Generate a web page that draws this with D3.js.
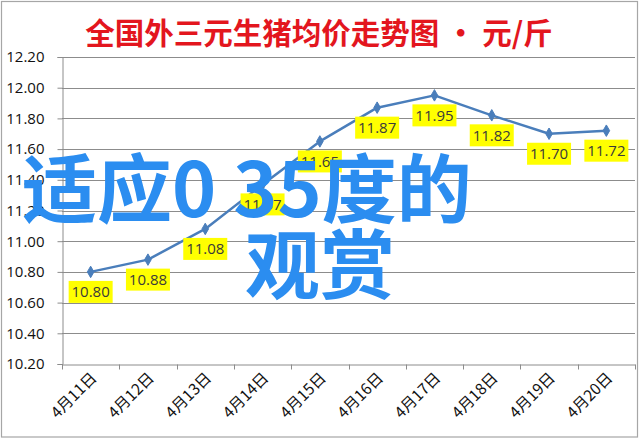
<!DOCTYPE html>
<html><head><meta charset="utf-8">
<script src="https://cdn.jsdelivr.net/npm/d3@7"></script>
<style>
html,body{margin:0;padding:0;background:#fff;}
svg{display:block;}
</style></head>
<body>
<svg id="chart" width="640" height="439"></svg>
<script>
const title = "全国外三元生猪均价走势图 · 元/斤";
const categories = ["4月11日","4月12日","4月13日","4月14日","4月15日","4月16日","4月17日","4月18日","4月19日","4月20日"];
const values = [10.80, 10.88, 11.08, 11.37, 11.65, 11.87, 11.95, 11.82, 11.70, 11.72];
const yTicks = [10.20, 10.40, 10.60, 10.80, 11.00, 11.20, 11.40, 11.60, 11.80, 12.00, 12.20];
const overlayLine1 = "适应0 35度的";
const overlayLine2 = "观赏";

const svg = d3.select("#chart");
const plot = {left: 62, right: 635, top: 57, bottom: 364};

// outer frame
svg.append("rect").attr("x", 1.5).attr("y", 1.5).attr("width", 636).attr("height", 435.5)
  .attr("fill", "#fff").attr("stroke", "#a6a6a6").attr("stroke-width", 1.2);

// title
svg.append("text").attr("x", 319).attr("y", 44).attr("text-anchor", "middle")
  .attr("font-family", "'Noto Sans CJK SC', sans-serif").attr("font-weight", 700)
  .attr("font-size", 29.5).attr("fill", "#e3161e").text(title);

const x = d3.scaleBand().domain(categories).range([plot.left, plot.right]);
const y = d3.scaleLinear().domain([10.2, 12.2]).range([plot.bottom, plot.top]);

// gridlines
svg.append("g").selectAll("line").data(yTicks.slice(1)).join("line")
  .attr("x1", plot.left).attr("x2", plot.right)
  .attr("y1", d => Math.round(y(d)) + 0.5).attr("y2", d => Math.round(y(d)) + 0.5)
  .attr("stroke", "#8c8c8c").attr("stroke-width", 1);

// y axis
const yAxis = d3.axisLeft(y).tickValues(yTicks).tickFormat(d3.format(".2f")).tickSize(5).tickPadding(13);
const gy = svg.append("g").attr("transform", `translate(${plot.left + 0.5},0)`).call(yAxis);
gy.select(".domain").attr("stroke", "#8c8c8c");
gy.selectAll(".tick line").attr("stroke", "#8c8c8c");
gy.selectAll(".tick text").attr("font-family", "'Open Sans', sans-serif").attr("font-size", 15).attr("fill", "#111");

// x axis
const xAxis = d3.axisBottom(x).tickSize(0).tickFormat("");
const gx = svg.append("g").attr("transform", `translate(0,${Math.round(y(10.2)) + 0.5})`).call(xAxis);
gx.select(".domain").attr("stroke", "#8c8c8c");
const bounds = categories.map(c => x(c)).concat([x(categories[categories.length-1]) + x.bandwidth()]);
gx.selectAll("line.b").data(bounds).join("line").attr("class","b")
  .attr("x1", d => Math.round(d) + 0.5).attr("x2", d => Math.round(d) + 0.5)
  .attr("y1", 0).attr("y2", 5).attr("stroke", "#8c8c8c");
// x labels rotated
svg.append("g").selectAll("text").data(categories).join("text")
  .attr("transform", d => `translate(${x(d) + x.bandwidth()/2 + 7},${plot.bottom + 15}) rotate(-45)`)
  .attr("text-anchor", "end")
  .attr("font-family", "'Noto Sans CJK SC', sans-serif").attr("font-size", 15.5).attr("fill", "#111")
  .text(d => d);

// line
const line = d3.line().x((d, i) => x(categories[i]) + x.bandwidth()/2).y(d => y(d));
svg.append("path").datum(values).attr("d", line).attr("fill", "none")
  .attr("stroke", "#4a7ebb").attr("stroke-width", 2.5).attr("stroke-linejoin", "round");

// markers
svg.append("g").selectAll("path").data(values).join("path")
  .attr("transform", (d, i) => `translate(${x(categories[i]) + x.bandwidth()/2},${y(d)})`)
  .attr("d", d3.symbol(d3.symbolDiamond, 38)).attr("fill", "#4a7ebb").attr("stroke", "#4a7ebb");

// data labels
const lg = svg.append("g").selectAll("g").data(values).join("g")
  .attr("transform", (d, i) => `translate(${x(categories[i]) + x.bandwidth()/2},${y(d) + 20})`);
lg.append("rect").attr("x", -22).attr("y", -11).attr("width", 44).attr("height", 22).attr("fill", "#ffff00");
lg.append("text").attr("text-anchor", "middle").attr("dy", "0.36em")
  .attr("font-family", "'Open Sans', sans-serif").attr("font-size", 15).attr("fill", "#3a3a3a")
  .text(d => d.toFixed(2));

// overlay text
const ov = svg.append("g").attr("font-family", "'Noto Sans CJK SC', sans-serif").attr("font-weight", 700)
  .attr("font-size", 75).attr("fill", "#2b8df0");
ov.append("text").attr("x", 22).attr("y", 217).text(overlayLine1);
ov.append("text").attr("x", 245).attr("y", 293).text(overlayLine2);
</script>
</body></html>
